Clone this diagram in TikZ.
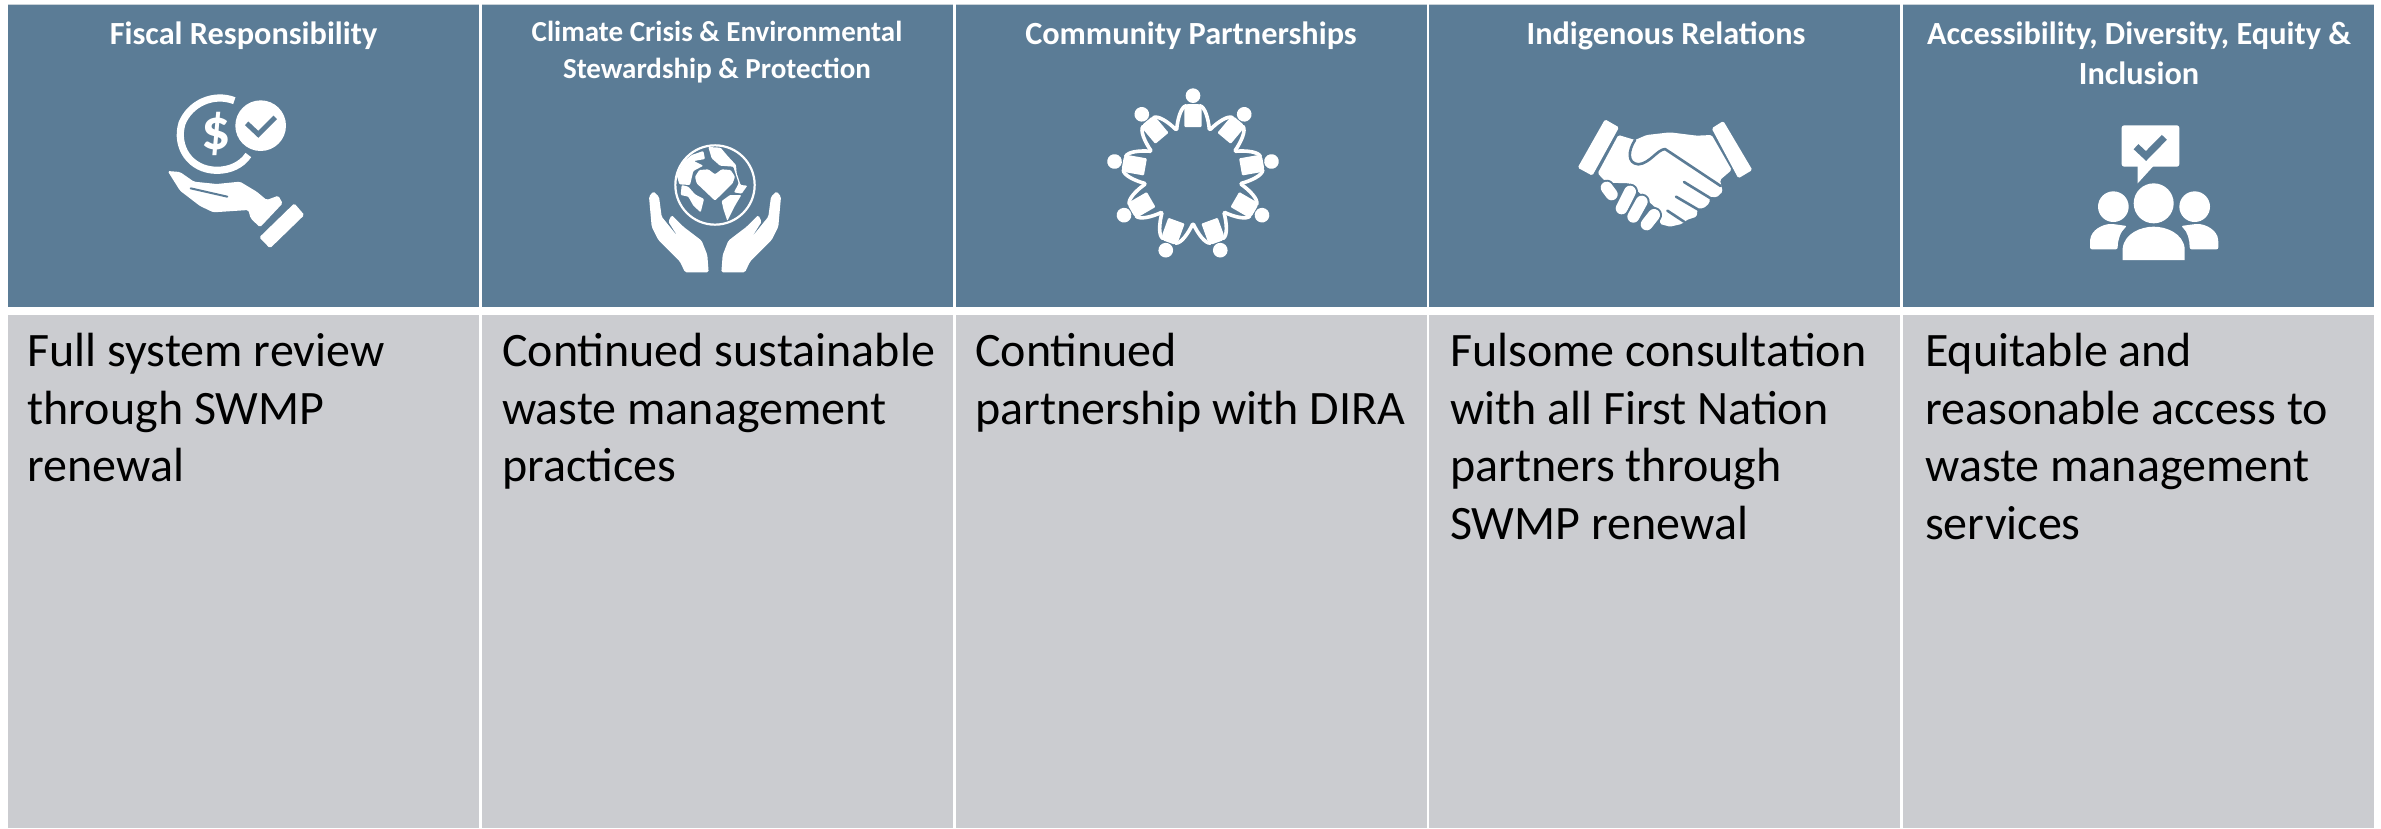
\documentclass[tikz,border=0pt]{standalone}
\usepackage{fontspec}
\setmainfont{Carlito}
\definecolor{headblue}{HTML}{5B7C96}
\definecolor{cellgrey}{HTML}{CBCCD0}
\definecolor{edgegrey}{HTML}{C9D2D8}
\newcommand{\bodytext}[1]{\parbox[t]{445pt}{\raggedright\fontsize{48}{57.5}\selectfont #1}}
\newcommand{\headtext}[3]{\parbox[t]{465pt}{\centering\fontsize{#1}{#2}\selectfont\bfseries #3}}
\tikzset{
  headcell/.style={fill=headblue},
  bodycell/.style={fill=cellgrey},
  bodylabel/.style={anchor=base west,inner sep=0pt,text=black},
  headlabel/.style={anchor=base,inner sep=0pt,text=white},
  ink/.style={fill=white,draw=none,rounded corners=1.6pt},
  cutline/.style={draw=headblue,line width=2.6pt,line cap=round,line join=round},
  whiteline/.style={draw=white,line cap=round,line join=round}
}
\begin{document}
\begin{tikzpicture}[x=1pt,y=-1pt]
\useasboundingbox (0,0) rectangle (2381,828);
\fill[white] (0,0) rectangle (2381,828);
% cells
\foreach \l/\r in {8/479,482/953,955.7/1426.7,1429.3/1900,1903/2374}{
  \fill[edgegrey] (\l,3.9) rectangle (\r,4.9);
  \fill[headcell] (\l,4.7) rectangle (\r,306.8);
  \fill[bodycell] (\l,315) rectangle (\r,828);
}
% header labels
\node[headlabel] (h1) at (243.5,44.5) {\headtext{32.3}{40}{Fiscal Responsibility}};
\node[headlabel] (h2) at (717,41) {\headtext{29}{37.5}{Climate Crisis \& Environmental\\Stewardship \& Protection}};
\node[headlabel] (h3) at (1191,44.5) {\headtext{32.3}{40}{Community Partnerships}};
\node[headlabel] (h4) at (1666,44.5) {\headtext{32.3}{40}{Indigenous Relations}};
\node[headlabel] (h5) at (2139,44.5) {\headtext{32.3}{40}{Accessibility, Diversity, Equity \&\\Inclusion}};
% body labels
\node[bodylabel] (b1) at (27.5,366.5) {\bodytext{Full system review\\through SWMP\\renewal}};
\node[bodylabel] (b2) at (502,366.5) {\bodytext{Continued sustainable\\waste management\\practices}};
\node[bodylabel] (b3) at (975,366.5) {\bodytext{Continued\\partnership with DIRA}};
\node[bodylabel] (b4) at (1450,366.5) {\bodytext{Fulsome consultation\\with all First Nation\\partners through\\SWMP renewal}};
\node[bodylabel] (b5) at (1925,366.5) {\bodytext{Equitable and\\reasonable access to\\waste management\\services}};
% icon 1: coin in hand
\begin{scope}[x=0.33333pt,y=-0.33333pt]
  \draw[whiteline,line width=7.2pt,line cap=butt] (703,302) .. controls (640,278) and (570,310) .. (546,370) .. controls (525,440) and (570,510) .. (650,511) .. controls (690,511) and (725,495) .. (745,465);
  \node[inner sep=0pt,text=white] (dollar) at (648,402) {\fontsize{58}{58}\selectfont\bfseries \$};
  \fill[white] (782,377) circle (76);
  \draw[cutline,line width=5pt,line cap=butt,line join=miter] (740,370) -- (775,403) -- (826,352);
  \path[ink] (503,513) -- (540,516) -- (582,545) -- (650,552) -- (720,545) -- (770,575) -- (800,600) -- (835,587) -- (848,610) -- (780,682) -- (752,655) -- (745,630) -- (640,637) -- (600,618) -- (540,572) -- cycle;
  \draw[cutline,line width=2pt] (572,565) -- (682,590);
  \path[ink] (883,610) -- (913,645) -- (810,745) -- (778,712) -- cycle;
\end{scope}
% icon 2: globe in hands
\begin{scope}[shift={(640,135)},x=0.33333pt,y=-0.33333pt]
  \draw[white,line width=2.2pt] (225,150) circle (119);
  \path[ink,rounded corners=1pt] (225,197) -- (170,145) -- (165,125) -- (178,105) -- (205,103) -- (225,118) -- (245,103) -- (272,105) -- (285,125) -- (278,145) -- cycle;
  \path[ink,rounded corners=1pt] (205,36) -- (242,38) -- (262,62) -- (288,90) -- (290,115) -- (302,150) -- (322,152) -- (305,176) -- (282,172) -- (296,145) -- (280,95) -- (240,92) -- (215,70) -- cycle;
  \path[ink,rounded corners=1pt] (155,60) -- (190,48) -- (195,72) -- (162,78) -- (190,92) -- (160,108) -- (150,150) -- (118,148) -- (110,120) -- (130,80) -- cycle;
  \path[ink,rounded corners=1pt] (245,198) -- (270,180) -- (304,180) -- (285,212) -- (262,258) -- (250,222) -- cycle;
  \path[ink,rounded corners=1pt] (125,150) -- (145,155) -- (165,178) -- (192,192) -- (182,232) -- (160,212) -- (145,185) -- (122,180) -- cycle;
\end{scope}
\begin{scope}[shift={(470,0)},x=0.33333pt,y=-0.33333pt]
  \foreach \m/\o in {1/0,-1/1470}{
    \begin{scope}[shift={(\o,0)},xscale=\m]
    \path[ink] (537,590) -- (550,574) -- (567,590) -- (575,650) -- (625,712) -- (595,665) -- (605,645) -- (640,680) -- (695,722) -- (712,765) -- (716,817) -- (645,817) -- (630,785) -- (565,720) -- (545,680) -- cycle;
    \end{scope}
  }
\end{scope}
% icon 3: circle of people
\begin{scope}[shift={(950,0)},x=0.33333pt,y=-0.33333pt]
  \begin{scope}[shift={(729,526)}]
  \foreach \a in {0,40,...,320}{
    \begin{scope}[rotate=\a]
      \fill[white] (0,-239) circle (22);
      \path[ink,rounded corners=1pt] (-26,-145) -- (-26,-200) -- (-18,-214) -- (18,-214) -- (26,-200) -- (26,-145) -- cycle;
      \draw[whiteline,line width=3.6pt] (-20,-209) .. controls (-36,-206) and (-46,-170) .. (-49,-138);
      \draw[whiteline,line width=3.6pt] (20,-209) .. controls (36,-206) and (46,-170) .. (49,-138);
    \end{scope}
  }
  \end{scope}
\end{scope}
% icon 4: handshake
\begin{scope}[shift={(1430,0)},x=0.33333pt,y=-0.33333pt]
  \path[ink] (525,358) -- (567,382) -- (487,527) -- (443,503) -- cycle;
  \path[ink] (880,363) -- (845,385) -- (925,535) -- (967,510) -- cycle;
  \path[ink] (565,405) -- (615,420) -- (650,405) -- (720,397) -- (800,407) -- (845,405) -- (905,510) -- (870,540) -- (878,575) -- (860,592) -- (840,590) -- (838,610) -- (820,625) -- (803,625) -- (800,650) -- (770,660) -- (755,672) -- (720,680) -- (690,672) -- (690,635) -- (640,590) -- (600,550) -- (530,548) -- (503,520) -- cycle;
  \draw[cutline] (615,420) .. controls (595,450) and (590,490) .. (625,493) .. controls (660,490) and (680,450) .. (705,447) -- (872,558);
  \draw[cutline] (762,546) -- (850,600);
  \draw[cutline] (738,590) -- (815,635);
  \draw[cutline] (712,632) -- (762,665);
  \foreach \p/\q/\r/\s in {530/563/545/583,575/625/600/575,610/650/635/605,650/673/672/645}{
    \draw[headblue,line width=16pt,line cap=round] (\p,\q) -- (\r,\s);
    \draw[white,line width=12pt,line cap=round] (\p,\q) -- (\r,\s);
  }
\end{scope}
% icon 5: people with speech bubble
\begin{scope}[shift={(1881,0)},x=0.33333pt,y=-0.33333pt]
  \path[ink,rounded corners=2.5pt] (722,376) -- (895,376) -- (895,500) -- (722,500) -- cycle;
  \fill[white] (770,495) -- (770,550) -- (820,495) -- cycle;
  \draw[cutline,line width=7pt,line cap=butt,line join=miter] (765,440) -- (795,468) -- (850,412);
  \fill[white] (818,610) circle (60);
  \fill[white] (697,620) circle (46);
  \fill[white] (941,620) circle (46);
  \fill[white] (725,780) -- (725,745) .. controls (730,700) and (780,680) .. (818,680) .. controls (856,680) and (906,700) .. (911,745) -- (911,780) -- cycle;
  \path[fill=white,rounded corners=2pt] (627,748) -- (627,725) .. controls (630,690) and (665,672) .. (695,672) -- (738,678) .. controls (718,695) and (710,720) .. (710,748) -- cycle;
  \path[fill=white,rounded corners=2pt] (1012,748) -- (1012,725) .. controls (1009,690) and (974,672) .. (944,672) -- (900,678) .. controls (920,695) and (926,720) .. (926,748) -- cycle;
\end{scope}
\end{tikzpicture}
\end{document}
